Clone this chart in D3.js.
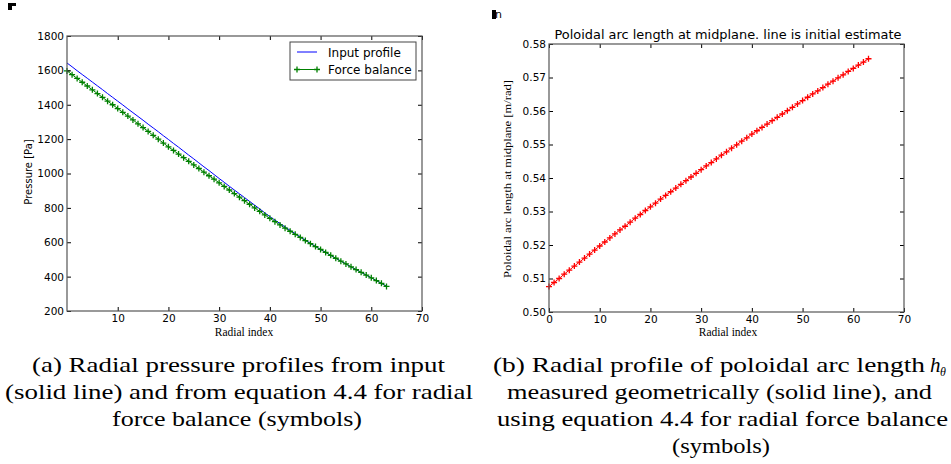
<!DOCTYPE html>
<html><head><meta charset="utf-8">
<script src="https://cdn.jsdelivr.net/npm/d3@7"></script>
<style>body{margin:0;background:#fff}svg{display:block}</style>
</head><body><svg id="c" width="951" height="464"></svg>
<script>
// ---- data ----
const radialIndex = d3.range(0, 64);
const inputProfile = [1643,1621,1598,1576,1554,1532,1510,1488,1465,1443,1421,1399,1376,1354,1332,1310,1287,1265,1243,1220,1198,1175,1153,1130,1107,1085,1062,1039,1017,994,971,949,926,904,882,860,838,816,794,771,749,729,709,689,669,650,631,613,594,576,558,541,524,507,490,474,457,441,425,409,393,377,361,344];
const forceBalance = [1597,1575,1553,1531,1509,1487,1465,1443,1421,1400,1378,1356,1334,1312,1289,1267,1245,1222,1200,1177,1155,1134,1113,1092,1071,1050,1029,1008,987,967,946,925,904,883,862,842,821,800,780,759,739,720,701,682,664,646,628,610,592,575,558,541,524,507,490,474,457,441,425,409,393,377,361,343];
const arcLength = [0.5076,0.5088,0.5100,0.5113,0.5125,0.5137,0.5149,0.5161,0.5173,0.5185,0.5197,0.5209,0.5221,0.5233,0.5245,0.5256,0.5268,0.5280,0.5291,0.5303,0.5314,0.5325,0.5337,0.5348,0.5359,0.5370,0.5381,0.5392,0.5403,0.5414,0.5425,0.5436,0.5446,0.5457,0.5468,0.5478,0.5489,0.5499,0.5510,0.5520,0.5531,0.5541,0.5551,0.5561,0.5571,0.5581,0.5591,0.5601,0.5611,0.5621,0.5631,0.5641,0.5651,0.5660,0.5670,0.5680,0.5689,0.5699,0.5708,0.5718,0.5727,0.5737,0.5746,0.5756];
const xTicksA = [10,20,30,40,50,60,70];
const yTicksA = [200,400,600,800,1000,1200,1400,1600,1800];
const xTicksB = [0,10,20,30,40,50,60,70];
const yTicksB = [0.50,0.51,0.52,0.53,0.54,0.55,0.56,0.57,0.58];
const legendLabels = ["Input profile","Force balance"];
const captionA = ["(a) Radial pressure profiles from input","(solid line) and from equation 4.4 for radial","force balance (symbols)"];
const captionB = ["(b) Radial profile of poloidal arc length","measured geometrically (solid line), and","using equation 4.4 for radial force balance","(symbols)"];

const svg = d3.select("#c");
const sans = "'DejaVu Sans', sans-serif";
const serif = "'Liberation Serif', 'Times New Roman', serif";

function frame(g, x, y, xt, yt, yfmt) {
  const [x0,x1] = x.range(), [y1,y0] = y.range();
  const ax = (a, tr) => g.append("g").attr("transform", tr).call(a).call(s => s.select(".domain").remove());
  ax(d3.axisBottom(x).tickValues(xt).tickSizeInner(-4).tickSizeOuter(0).tickPadding(4), `translate(0,${y1})`)
    .selectAll("text").attr("font-family", sans).attr("font-size", 10.5).attr("fill","#000");
  ax(d3.axisLeft(y).tickValues(yt).tickFormat(yfmt).tickSizeInner(-4).tickSizeOuter(0).tickPadding(3), `translate(${x0},0)`)
    .selectAll("text").attr("font-family", sans).attr("font-size", 10.5).attr("fill","#000");
  ax(d3.axisTop(x).tickValues(xt).tickFormat("").tickSizeInner(-4).tickSizeOuter(0), `translate(0,${y0})`);
  ax(d3.axisRight(y).tickValues(yt).tickFormat("").tickSizeInner(-4).tickSizeOuter(0), `translate(${x1},0)`);
  g.selectAll(".tick line").attr("stroke","#000");
  g.append("rect").attr("x",x0).attr("y",y0).attr("width",x1-x0).attr("height",y1-y0)
    .attr("fill","none").attr("stroke","#555").attr("stroke-width",1.2);
}
function plusMarks(g, xs, ys, px, py, color, r) {
  g.append("g").selectAll("path").data(xs).join("path")
    .attr("d", (d,i) => { const cx = px(d), cy = py(ys[i]); return `M${cx-r},${cy}H${cx+r}M${cx},${cy-r}V${cy+r}`; })
    .attr("stroke", color).attr("stroke-width", 1.3).attr("fill","none");
}

// ---- panel A ----
const xA = d3.scaleLinear().domain([0,70]).range([67,422]);
const yA = d3.scaleLinear().domain([200,1800]).range([311,36]);
const gA = svg.append("g");
const lineA = vals => d3.line().x((d,i)=>xA(radialIndex[i])).y(d=>yA(d))(vals);
gA.append("path").attr("d", lineA(inputProfile)).attr("fill","none").attr("stroke","#0000ff").attr("stroke-width",1);
gA.append("path").attr("d", lineA(forceBalance)).attr("fill","none").attr("stroke","#008000").attr("stroke-width",1);
plusMarks(gA, radialIndex, forceBalance, xA, yA, "#008000", 3);
frame(gA, xA, yA, xTicksA, yTicksA, d3.format("d"));
// legend
const lg = gA.append("g");
lg.append("rect").attr("x",290).attr("y",42).attr("width",126).attr("height",38).attr("fill","#fff").attr("stroke","#444").attr("stroke-width",1);
const legColors = ["#0000ff","#008000"];
legendLabels.forEach((t,i) => {
  const yy = 52 + i*17.5;
  lg.append("line").attr("x1",297).attr("x2",317).attr("y1",yy).attr("y2",yy).attr("stroke",legColors[i]).attr("stroke-width",1);
  if (i===1) plusMarks(lg, [297,317], [yy,yy], d=>d, d=>d, legColors[i], 3);
  lg.append("text").attr("x",328).attr("y",yy+4.5).attr("font-family",sans).attr("font-size",12).text(t);
});
gA.append("text").attr("transform","translate(32,172) rotate(-90)").attr("text-anchor","middle")
  .attr("font-family",sans).attr("font-size",10).text("Pressure [Pa]");
gA.append("text").attr("x",244).attr("y",336).attr("text-anchor","middle").attr("font-family",serif).attr("font-size",11.5).text("Radial index");

// ---- panel B ----
const xB = d3.scaleLinear().domain([0,70]).range([549,904]);
const yB = d3.scaleLinear().domain([0.50,0.58]).range([312,44]);
const gB = svg.append("g");
gB.append("path").attr("d", d3.line().x((d,i)=>xB(radialIndex[i])).y(d=>yB(d))(arcLength))
  .attr("fill","none").attr("stroke","#ff0000").attr("stroke-width",1);
plusMarks(gB, radialIndex, arcLength, xB, yB, "#ff0000", 3);
frame(gB, xB, yB, xTicksB, yTicksB, d3.format(".2f"));
gB.append("text").attr("x",728).attr("y",39).attr("text-anchor","middle").attr("font-family",sans).attr("font-size",12)
  .attr("textLength",347).attr("lengthAdjust","spacingAndGlyphs").text("Poloidal arc length at midplane. line is initial estimate");
gB.append("text").attr("transform","translate(511,179) rotate(-90)").attr("text-anchor","middle")
  .attr("font-family",serif).attr("font-size",10.5).attr("textLength",198).attr("lengthAdjust","spacingAndGlyphs")
  .text("Poloidal arc length at midplane [m/rad]");
gB.append("text").attr("x",728).attr("y",336).attr("text-anchor","middle").attr("font-family",serif).attr("font-size",11.5).text("Radial index");

// corner fragments
svg.append("path").attr("d","M8,3H16V6H12V10H8Z").attr("fill","#000");
svg.append("rect").attr("x",492).attr("y",10).attr("width",4).attr("height",9).attr("fill","#000");
svg.append("text").attr("x",495).attr("y",18).attr("font-family",sans).attr("font-size",11).text("n");

// ---- captions ----
const capA = [[32,445],[5,473],[112,362]];
captionA.forEach((t,i) => {
  svg.append("text").attr("x",capA[i][0]).attr("y",372+i*27).attr("font-family",serif).attr("font-size",21)
    .attr("textLength",capA[i][1]-capA[i][0]).attr("lengthAdjust","spacingAndGlyphs").text(t);
});
const capB = [[493,925],[507,932],[497,948],[672,770]];
captionB.forEach((t,i) => {
  svg.append("text").attr("x",capB[i][0]).attr("y",372+i*27).attr("font-family",serif).attr("font-size",21)
    .attr("textLength",capB[i][1]-capB[i][0]).attr("lengthAdjust","spacingAndGlyphs").text(t);
});
svg.append("text").attr("x",930).attr("y",372).attr("font-family",serif).attr("font-size",21).attr("font-style","italic").text("h");
svg.append("text").attr("x",940).attr("y",376).attr("font-family",serif).attr("font-size",12).attr("font-style","italic").text("θ");
</script></body></html>
